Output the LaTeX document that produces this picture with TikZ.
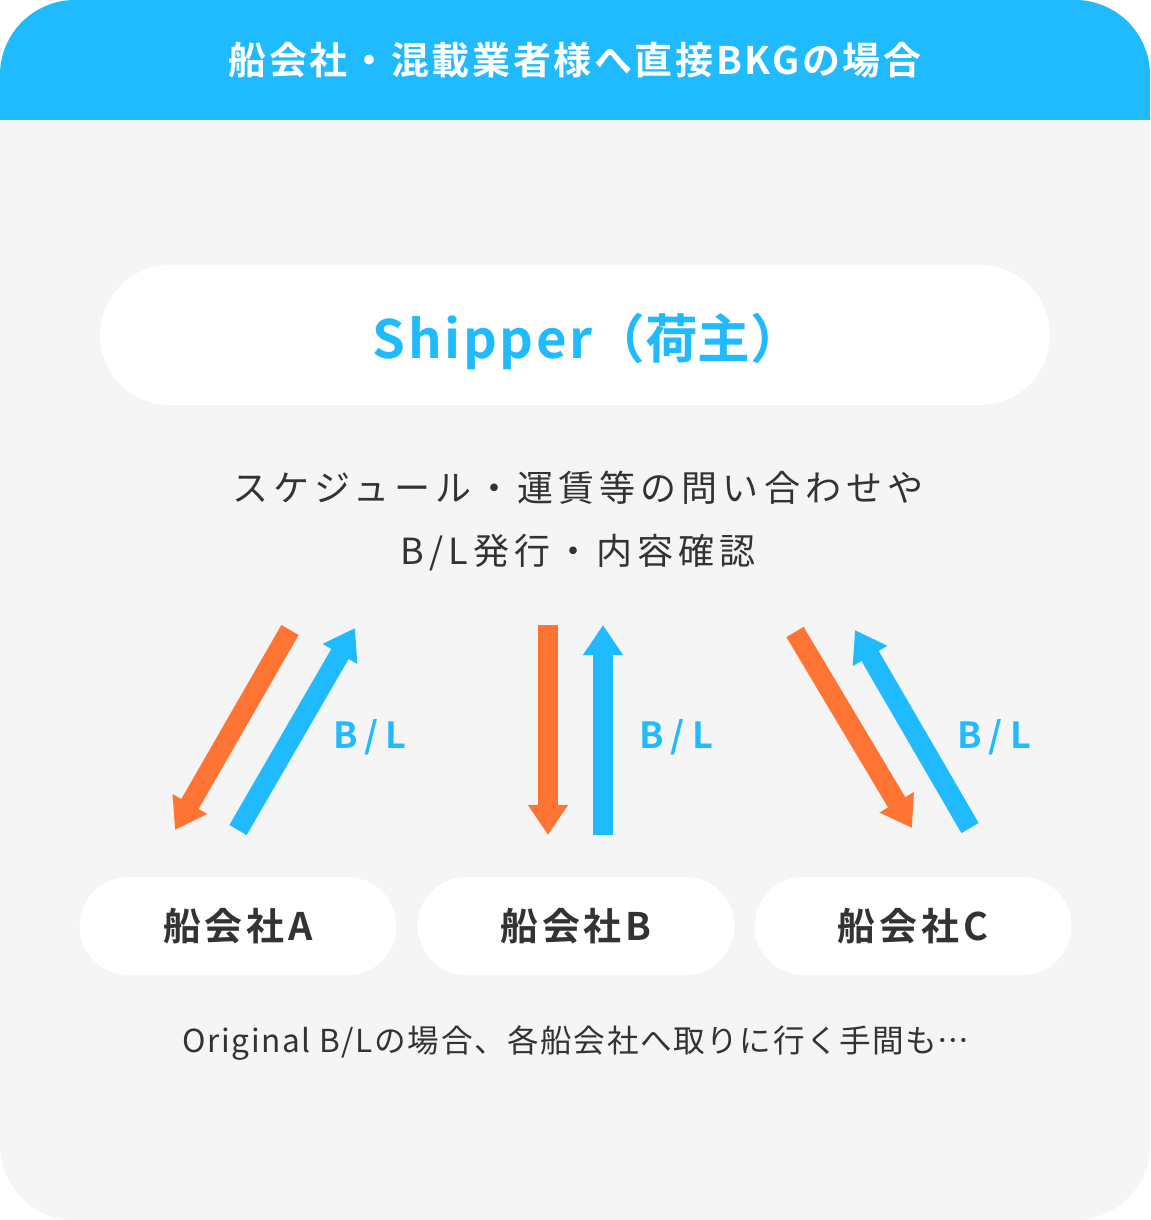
\documentclass[tikz,border=0pt]{standalone}
\usepackage{fontspec}
\setmainfont{Noto Sans CJK JP}[BoldFont={Noto Sans CJK JP Bold}]
\usetikzlibrary{arrows.meta}
\definecolor{skyblue}{HTML}{20BBFF}
\definecolor{carrot}{HTML}{FF7433}
\definecolor{panelgray}{HTML}{F5F5F5}
\definecolor{inkgray}{HTML}{333333}

\begin{document}
\begin{tikzpicture}[x=0.02cm, y=-0.02cm,
  pill/.style={fill=white, rounded corners=0.98cm, minimum width=6.34cm, minimum height=1.96cm, inner sep=0pt,
    text=inkgray, font=\fontsize{21.6pt}{26pt}\selectfont\bfseries\addfontfeature{LetterSpace=10}},
  flow/.style={line width=0.4cm, -{Triangle[width=0.76cm, length=0.6cm]}},
  bl/.style={text=skyblue, font=\fontsize{20.5pt}{24pt}\selectfont\bfseries\addfontfeature{LetterSpace=20}}]
\useasboundingbox (0,0) rectangle (1150,1220);
\fill[white] (0,0) rectangle (1150,1220);
\fill[panelgray, rounded corners=1.5cm] (0,0) rectangle (1150,1220);
\begin{scope}
\clip[rounded corners=1.5cm] (0,0) rectangle (1150,1220);
\fill[skyblue] (0,0) rectangle (1150,120);
\end{scope}
\node[text=white, font=\fontsize{21.6pt}{26pt}\selectfont\bfseries\addfontfeature{LetterSpace=7}] (title) at (575,60) {船会社・混載業者様へ直接BKGの場合};

\node[fill=white, rounded corners=1.4cm, minimum width=19cm, minimum height=2.8cm, inner sep=0pt] (shipper) at (575,335) {};
\node[text=skyblue, font=\fontsize{30pt}{36pt}\selectfont\bfseries] (shiptext) at (588,341)
  {{\addfontfeature{LetterSpace=5}Shipper}（荷主）};
\node[text=inkgray, align=center, font=\fontsize{20.5pt}{35.8pt}\selectfont\addfontfeature{LetterSpace=14}] (ask) at (578,521)
  {スケジュール・運賃等の問い合わせや\\B/L発行・内容確認};

\node[pill] (ca) at (238,926) {船会社A};
\node[pill] (cb) at (576,926) {船会社B};
\node[pill] (cc) at (913,926) {船会社C};

\coordinate (a1) at (290,630);
\coordinate (a2) at (175,830);
\coordinate (a3) at (238,830);
\coordinate (a4) at (355,628);
\coordinate (b1) at (548,625);
\coordinate (b2) at (548,835);
\coordinate (b3) at (603,835);
\coordinate (b4) at (603,625);
\coordinate (c1) at (795,632);
\coordinate (c2) at (912,828);
\coordinate (c3) at (970,828);
\coordinate (c4) at (855,630);
\draw[flow, carrot] (a1)--(a2);
\draw[flow, skyblue] (a3)--(a4);
\draw[flow, carrot] (b1)--(b2);
\draw[flow, skyblue] (b3)--(b4);
\draw[flow, carrot] (c1)--(c2);
\draw[flow, skyblue] (c3)--(c4);
\node[bl] (bla) at (370,737) {B/L};
\node[bl] (blb) at (676,737) {B/L};
\node[bl] (blc) at (994,737) {B/L};

\node[text=inkgray, font=\fontsize{18pt}{22pt}\selectfont\addfontfeature{LetterSpace=5}] (note) at (576,1043)
  {Original B/Lの場合、各船会社へ取りに行く手間も{\addfontfeature{Script=CJK,Language=Japanese,RawFeature=+fwid}…}};
\end{tikzpicture}
\end{document}
